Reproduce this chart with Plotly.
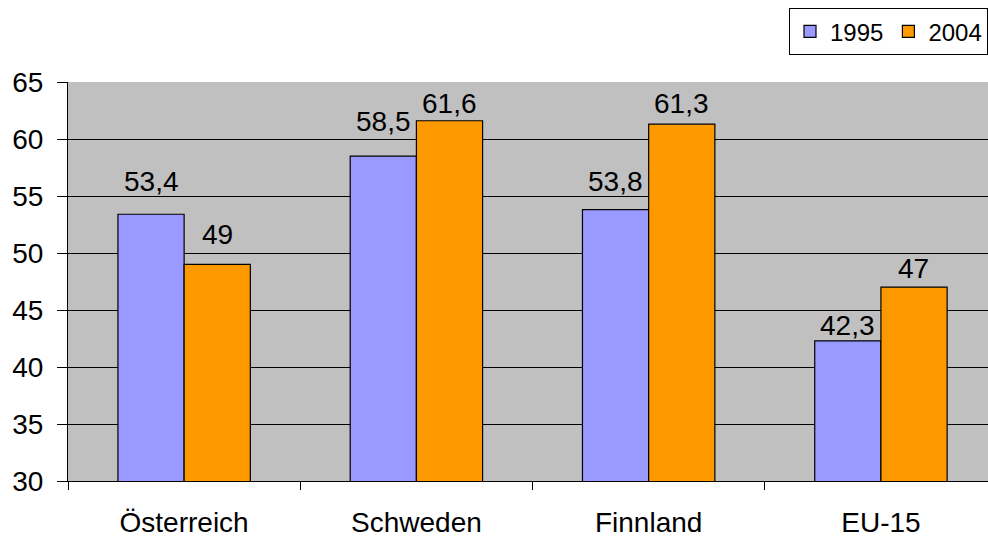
import plotly.graph_objects as go

categories = ["Österreich", "Schweden", "Finnland", "EU-15"]
values_1995 = [53.4, 58.5, 53.8, 42.3]
values_2004 = [49, 61.6, 61.3, 47]
labels_1995 = ["53,4", "58,5", "53,8", "42,3"]
labels_2004 = ["49", "61,6", "61,3", "47"]
y_ticks = [30, 35, 40, 45, 50, 55, 60, 65]

# label vertical offsets (pixels, styling only)
shift_1995 = [15, 17, 11, -2]
shift_2004 = [12, 0, 3, 1]

FONT = "Liberation Sans, Arial, sans-serif"
FS = 28

fig = go.Figure()
fig.add_trace(go.Bar(
    name="1995", x=categories, y=values_1995,
    marker=dict(color="#9999FF", line=dict(color="black", width=1.2)),
))
fig.add_trace(go.Bar(
    name="2004", x=categories, y=values_2004,
    marker=dict(color="#FF9900", line=dict(color="black", width=1.2)),
))

annotations = []
for vals, labs, shifts, dx in ((values_1995, labels_1995, shift_1995, -33),
                               (values_2004, labels_2004, shift_2004, 33)):
    for c, v, t, s in zip(categories, vals, labs, shifts):
        annotations.append(dict(
            x=c, y=v, xref="x", yref="y", text=t, showarrow=False,
            xanchor="center", yanchor="bottom", xshift=dx, yshift=s,
            font=dict(family=FONT, size=FS, color="black"),
        ))

fig.update_layout(
    width=988, height=541,
    margin=dict(l=68, r=0, t=82, b=60),
    paper_bgcolor="white", plot_bgcolor="#C0C0C0",
    barmode="group", bargap=0.43, bargroupgap=0,
    font=dict(family=FONT, size=FS, color="black"),
    showlegend=True,
    legend=dict(
        orientation="h", x=1, y=1.185, xanchor="right", yanchor="top",
        bgcolor="white", bordercolor="black", borderwidth=1,
        font=dict(family=FONT, size=24, color="black"),
        itemwidth=30, traceorder="normal",
    ),
    annotations=annotations,
)
fig.update_xaxes(
    range=[-0.5, 3.461], showgrid=False, showline=True, linecolor="black", linewidth=1,
    ticks="outside", tickson="boundaries", ticklen=8, tickcolor="black",
    tickfont=dict(family=FONT, size=FS, color="black"), ticklabelstandoff=16,
)
fig.update_yaxes(
    range=[30, 65], tickvals=y_ticks, showgrid=True, gridcolor="black", gridwidth=1,
    showline=True, linecolor="black", linewidth=1, zeroline=False,
    ticks="outside", ticklen=10, tickcolor="black",
    tickfont=dict(family=FONT, size=FS, color="black"), ticklabelstandoff=8,
)

fig.write_html("out.html")
